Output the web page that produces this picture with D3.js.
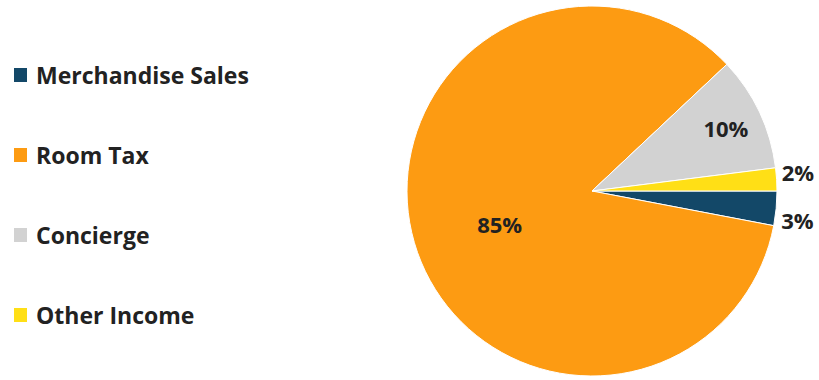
<!DOCTYPE html>
<html>
<head>
    <meta charset="utf-8">
    <title>income-pie</title>
    <style>
        body { margin: 0; background: #fff; }
        text { font-family: "Open Sans", Lato, sans-serif; font-weight: bold; fill: #222; }
    </style>
</head>
<body>
    <svg width="819" height="380"></svg>

    <script src="https://cdn.jsdelivr.net/npm/d3@7"></script>
    <script>

    // data
    var categories = ['Merchandise Sales', 'Room Tax', 'Concierge', 'Other Income']
    var values = [3, 85, 10, 2]
    var colors = ['#134868', '#fd9b12', '#d2d2d2', '#ffdf16']
    // slices start at 3 o'clock and go clockwise in this order
    var sliceOrder = [0, 1, 2, 3]

    var svg = d3.select('svg')
    var cx = 592, cy = 191, R = 185

    var pie = d3.pie()
        .sort(null)
        .value(function(d){ return values[d] })
        .startAngle(Math.PI / 2)
        .endAngle(Math.PI / 2 + 2 * Math.PI)

    var arc = d3.arc().innerRadius(0).outerRadius(R)

    var g = svg.append('g').attr('transform', 'translate(' + cx + ',' + cy + ')')
    var arcs = pie(sliceOrder)

    g.selectAll('path')
        .data(arcs)
        .enter().append('path')
        .attr('d', arc)
        .attr('fill', function(d){ return colors[d.data] })
        .attr('stroke', '#fff')
        .attr('stroke-width', 1)

    // labels: big slices inside, small slices just outside the rim
    g.selectAll('text.lbl')
        .data(arcs)
        .enter().append('text')
        .attr('class', 'lbl')
        .attr('font-size', 22)
        .attr('dominant-baseline', 'central')
        .attr('text-anchor', function(d){ return values[d.data] < 5 ? 'start' : 'middle' })
        .attr('transform', function(d){
            var v = values[d.data]
            var r = v > 50 ? R * 0.52 : v >= 5 ? R * 0.8 : R + 5
            var a = (d.startAngle + d.endAngle) / 2
            var x = r * Math.sin(a), y = -r * Math.cos(a)
            if (v < 5) y = y * 1.6
            if (v > 50) y += 6
            return 'translate(' + x + ',' + y + ')'
        })
        .text(function(d){ return values[d.data] + '%' })

    // legend
    var legend = svg.selectAll('g.legend')
        .data(categories)
        .enter().append('g')
        .attr('class', 'legend')
        .attr('transform', function(d, i){ return 'translate(14,' + (75 + i * 80) + ')' })

    legend.append('rect')
        .attr('x', 0).attr('y', -7)
        .attr('width', 13).attr('height', 14)
        .attr('fill', function(d, i){ return colors[i] })

    legend.append('text')
        .attr('x', 22)
        .attr('dominant-baseline', 'central')
        .attr('font-size', 23)
        .text(function(d){ return d })

    </script>
</body>
</html>
